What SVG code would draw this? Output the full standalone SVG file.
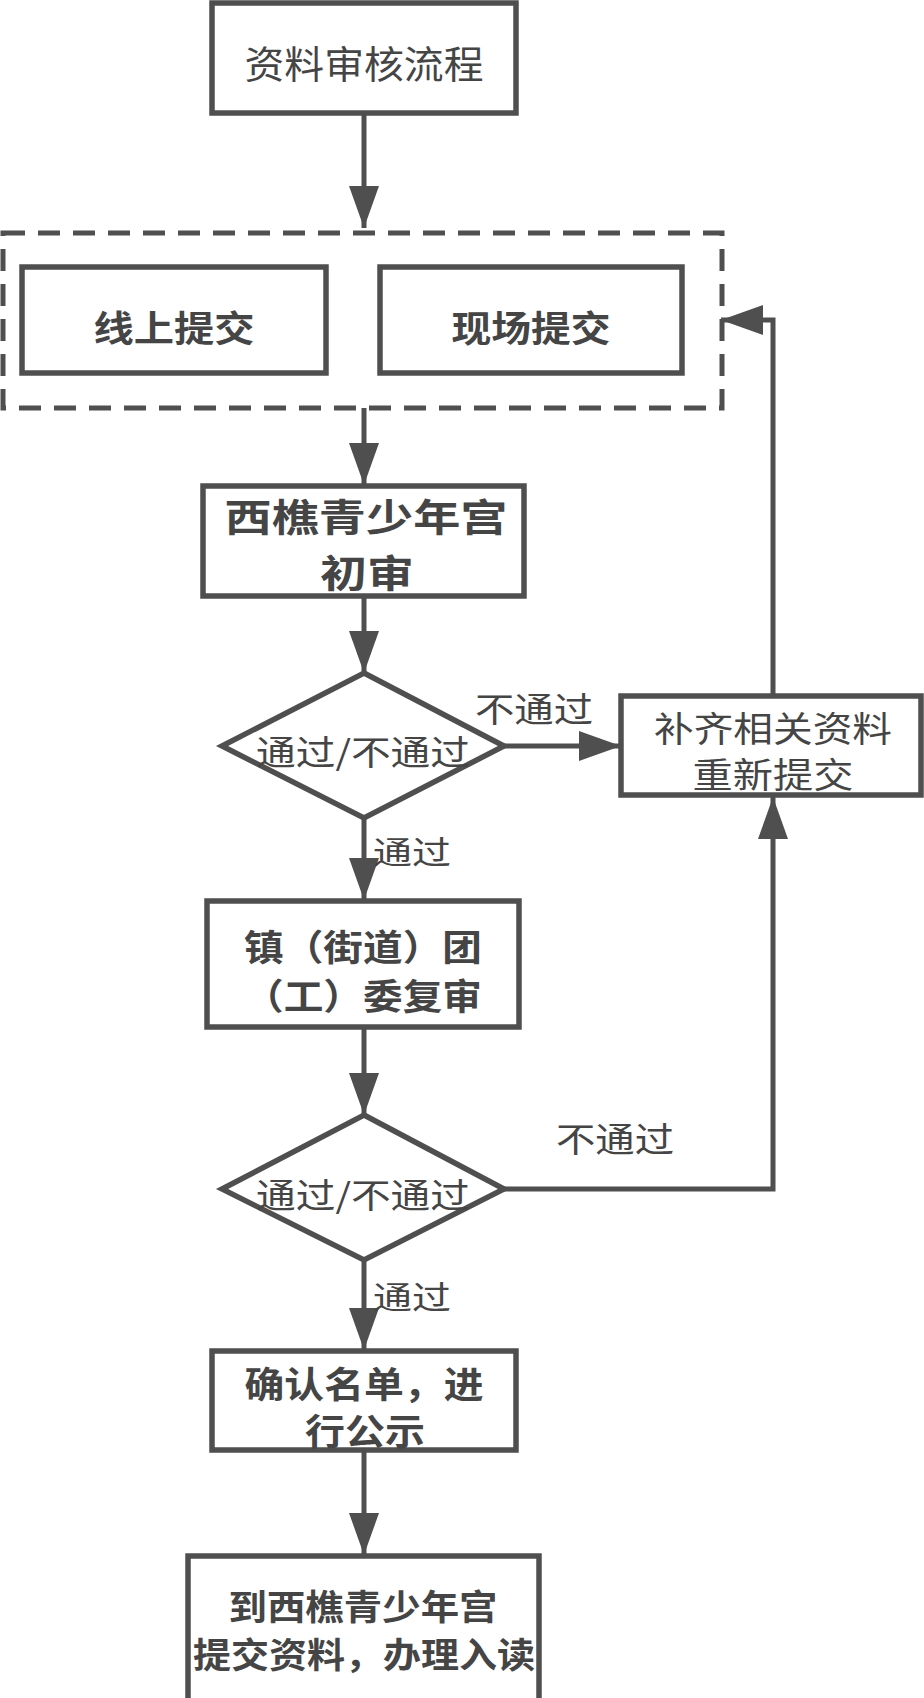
<svg xmlns="http://www.w3.org/2000/svg" width="924" height="1698" viewBox="0 0 924 1698">
<defs>
<style>
.box{fill:#fff;stroke:#4f4f4f;stroke-width:5.5}
.dash{fill:none;stroke:#4f4f4f;stroke-width:5;stroke-dasharray:22 13}
.ln{fill:none;stroke:#4f4f4f;stroke-width:5}
.t{font-family:"Noto Sans CJK SC","Noto Sans",sans-serif;fill:#454545;text-anchor:middle;dominant-baseline:central}
.b{font-weight:700}
</style>
<marker id="ah" markerUnits="userSpaceOnUse" markerWidth="44" markerHeight="32" viewBox="0 0 44 32" refX="42" refY="16" orient="auto">
<path d="M0,1 L42,16 L0,31 Z" fill="#4f4f4f"/>
</marker>
</defs>
<rect width="924" height="1698" fill="#fff"/>
<g id="connectors">
<line class="ln" x1="364" y1="114" x2="364" y2="228" marker-end="url(#ah)"/>
<line class="ln" x1="364" y1="408" x2="364" y2="485" marker-end="url(#ah)"/>
<line class="ln" x1="364" y1="597" x2="364" y2="673" marker-end="url(#ah)"/>
<line class="ln" x1="504" y1="746" x2="621" y2="746" marker-end="url(#ah)"/>
<line class="ln" x1="364" y1="818" x2="364" y2="900" marker-end="url(#ah)"/>
<line class="ln" x1="364" y1="1028" x2="364" y2="1115" marker-end="url(#ah)"/>
<path class="ln" d="M504,1189 H773 V797" marker-end="url(#ah)"/>
<path class="ln" d="M773,696 V320 H721" marker-end="url(#ah)"/>
<line class="ln" x1="364" y1="1260" x2="364" y2="1350" marker-end="url(#ah)"/>
<line class="ln" x1="364" y1="1451" x2="364" y2="1555" marker-end="url(#ah)"/>
<text class="t" x="534" y="707" font-size="34" textLength="118" lengthAdjust="spacingAndGlyphs">不通过</text>
<text class="t" x="412" y="850" font-size="32" textLength="78" lengthAdjust="spacingAndGlyphs">通过</text>
<text class="t" x="615" y="1137" font-size="34" textLength="118" lengthAdjust="spacingAndGlyphs">不通过</text>
<text class="t" x="412" y="1295" font-size="32" textLength="78" lengthAdjust="spacingAndGlyphs">通过</text>
</g>
<g id="n-title">
<rect class="box" x="212" y="3" width="304" height="110"/>
<text class="t" x="364" y="61" font-size="38" textLength="239" lengthAdjust="spacingAndGlyphs">资料审核流程</text>
</g>
<g id="n-group">
<rect class="dash" x="3" y="233" width="719" height="175"/>
</g>
<g id="n-online">
<rect class="box" x="22" y="267" width="304" height="106"/>
<text class="t b" x="174" y="326" font-size="36" textLength="161" lengthAdjust="spacingAndGlyphs">线上提交</text>
</g>
<g id="n-onsite">
<rect class="box" x="380" y="267" width="302" height="106"/>
<text class="t b" x="531" y="326" font-size="36" textLength="159" lengthAdjust="spacingAndGlyphs">现场提交</text>
</g>
<g id="n-first">
<rect class="box" x="203" y="486" width="321" height="110"/>
<text class="t b" font-size="38"><tspan x="366" y="514" textLength="283" lengthAdjust="spacingAndGlyphs">西樵青少年宫</tspan><tspan x="367" y="570" textLength="94" lengthAdjust="spacingAndGlyphs">初审</tspan></text>
</g>
<g id="n-d1">
<polygon class="box" points="364,673 504,746 364,818 222,746"/>
<text class="t" x="363" y="750" font-size="34" textLength="214" lengthAdjust="spacingAndGlyphs">通过/不通过</text>
</g>
<g id="n-resubmit">
<rect class="box" x="621" y="696" width="300" height="99"/>
<text class="t" font-size="35"><tspan x="773" y="726" textLength="238" lengthAdjust="spacingAndGlyphs">补齐相关资料</tspan><tspan x="773" y="772" textLength="161" lengthAdjust="spacingAndGlyphs">重新提交</tspan></text>
</g>
<g id="n-second">
<rect class="box" x="207" y="901" width="312" height="126"/>
<text class="t b" font-size="36"><tspan x="363" y="945" textLength="238" lengthAdjust="spacingAndGlyphs">镇（街道）团</tspan><tspan x="363" y="994" textLength="238" lengthAdjust="spacingAndGlyphs">（工）委复审</tspan></text>
</g>
<g id="n-d2">
<polygon class="box" points="364,1115 504,1189 364,1260 222,1189"/>
<text class="t" x="363" y="1193" font-size="34" textLength="214" lengthAdjust="spacingAndGlyphs">通过/不通过</text>
</g>
<g id="n-confirm">
<rect class="box" x="212" y="1351" width="304" height="99"/>
<text class="t b" font-size="36"><tspan x="364" y="1382" textLength="239" lengthAdjust="spacingAndGlyphs">确认名单，进</tspan><tspan x="365" y="1429" textLength="120" lengthAdjust="spacingAndGlyphs">行公示</tspan></text>
</g>
<g id="n-enroll">
<rect class="box" x="188" y="1556" width="351" height="160"/>
<text class="t b" font-size="35"><tspan x="363" y="1604" textLength="269" lengthAdjust="spacingAndGlyphs">到西樵青少年宫</tspan><tspan x="364" y="1652" textLength="342" lengthAdjust="spacingAndGlyphs">提交资料，办理入读</tspan></text>
</g>
</svg>
